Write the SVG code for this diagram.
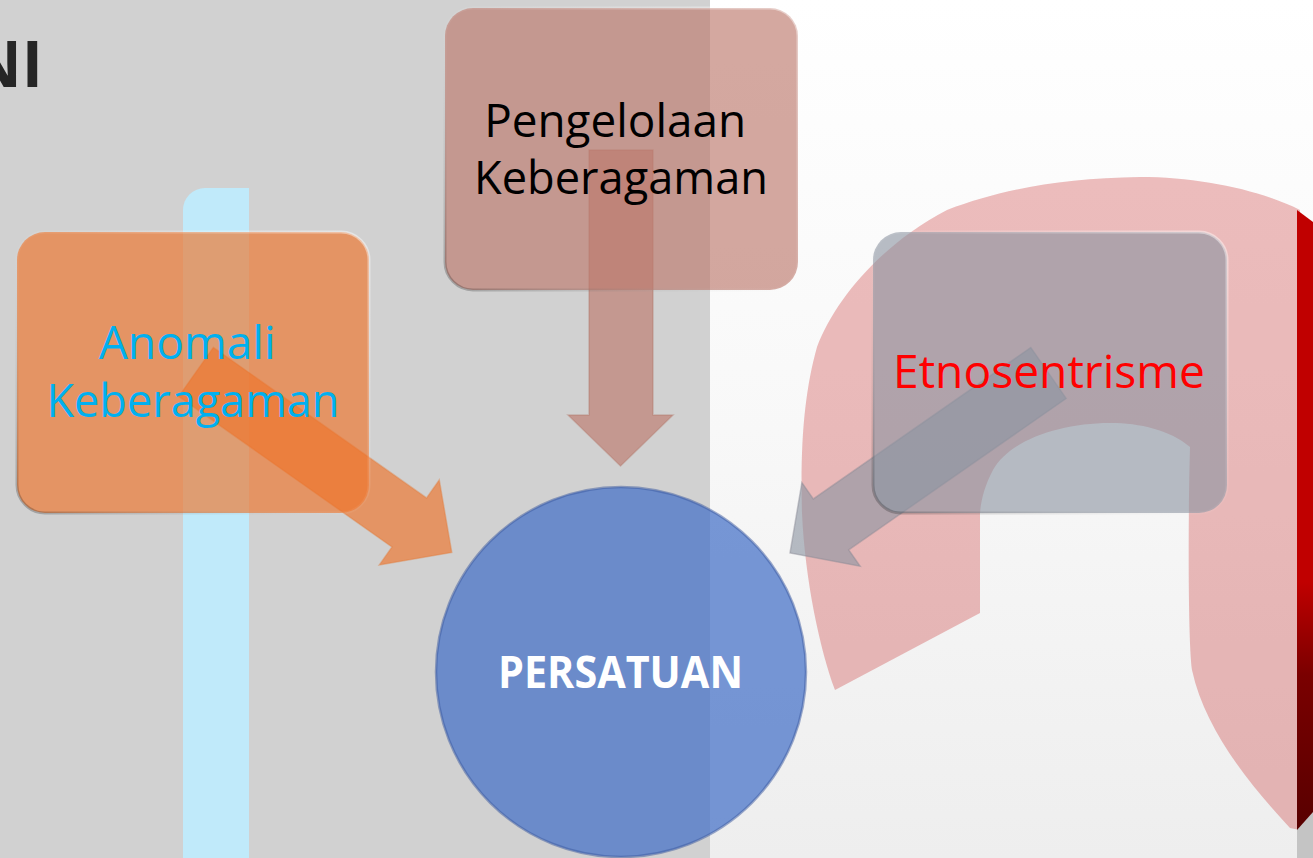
<svg xmlns="http://www.w3.org/2000/svg" width="1313" height="858" viewBox="0 0 1313 858">
  <defs>
    <linearGradient id="bgRight" x1="0" y1="0" x2="0" y2="1">
      <stop offset="0" stop-color="#ffffff"/>
      <stop offset="0.5" stop-color="#f8f8f8"/>
      <stop offset="1" stop-color="#eeeeee"/>
    </linearGradient>
    <linearGradient id="redBar" x1="0" y1="0" x2="0" y2="1">
      <stop offset="0" stop-color="#c00000"/>
      <stop offset="0.6" stop-color="#c00000"/>
      <stop offset="0.75" stop-color="#7a0000"/>
      <stop offset="1" stop-color="#580000"/>
    </linearGradient>
    <linearGradient id="bevel" x1="1" y1="0" x2="0" y2="1">
      <stop offset="0" stop-color="#ffffff" stop-opacity="0.45"/>
      <stop offset="0.5" stop-color="#ffffff" stop-opacity="0.05"/>
      <stop offset="1" stop-color="#000000" stop-opacity="0.25"/>
    </linearGradient>
    <style>
      .txt { font-family: 'Open Sans', 'Liberation Sans', sans-serif; text-anchor: middle; }
      .box { stroke: url(#bevel); stroke-width: 3; }
      .orange { fill: rgb(238,115,41); fill-opacity: 0.65; }
      .rose { fill: rgb(189,121,109); fill-opacity: 0.65; }
      .slate { fill: rgb(140,148,162); fill-opacity: 0.62; }
      .blue { fill: rgb(68,112,200); fill-opacity: 0.72; }
    </style>
  </defs>

  <!-- background -->
  <g id="background">
    <rect x="0" y="0" width="710" height="858" fill="#d1d1d1"/>
    <rect x="710" y="0" width="603" height="858" fill="url(#bgRight)"/>
    <path d="M183,858 V210 A22,22 0 0 1 205,188 H249 V858 Z" fill="#c0eafa"/>
    <path d="M835,690 C820,650 805,580 802,513 C800,440 805,390 817,347 C835,300 880,245 947,210 C1000,190 1060,178 1140,177 C1200,177 1260,190 1300,210 L1300,830 L1290,828 C1250,785 1205,730 1192,670 C1188,640 1188,520 1190,447 C1170,430 1140,423 1110,423 C1060,423 1010,440 993,470 C985,485 981,500 980,513 L980,613 Z" fill="rgb(200,40,40)" fill-opacity="0.3"/>
    <rect x="1297" y="800" width="16" height="58" fill="#c4c4c4"/>
    <path d="M1297,210 L1313,222 L1313,812 L1297,830 Z" fill="url(#redBar)"/>
    <text x="43" y="87" font-family="'Open Sans', 'Liberation Sans', sans-serif" font-weight="bold" font-size="64" fill="#262626" text-anchor="end">NI</text>
  </g>

  <!-- connectors -->
  <g id="connectors">
    <path class="orange" d="M0,-30 H261 V-52 L313,0 L261,52 V30 H0 Z" transform="translate(196,372) rotate(35.2)" stroke="#e07a3a" stroke-opacity="0.4" stroke-width="1.5"/>
    <path class="rose" d="M589,150 H653 V415 H673 L620.5,466 L568,415 H589 Z" stroke="#b07060" stroke-opacity="0.35" stroke-width="1.5"/>
    <path class="slate" d="M0,-31 H265 V-51 L315,0 L265,51 V31 H0 Z" transform="translate(1048.5,373) rotate(145.15)" stroke="#8a8a95" stroke-opacity="0.45" stroke-width="1.5"/>
  </g>

  <!-- nodes -->
  <g id="node-anomali">
    <rect class="orange box" x="17" y="232" width="352" height="281" rx="28"/>
    <text class="txt" font-size="45" fill="#00b0f0">
      <tspan x="193" y="359" textLength="177" lengthAdjust="spacingAndGlyphs">Anomali</tspan>
      <tspan x="193" y="417" textLength="293" lengthAdjust="spacingAndGlyphs">Keberagaman</tspan>
    </text>
  </g>

  <g id="node-pengelolaan">
    <rect class="rose box" x="445" y="8" width="353" height="282" rx="28"/>
    <text class="txt" font-size="45" fill="#000000">
      <tspan x="621" y="137" textLength="262" lengthAdjust="spacingAndGlyphs">Pengelolaan</tspan>
      <tspan x="621" y="194" textLength="294" lengthAdjust="spacingAndGlyphs">Keberagaman</tspan>
    </text>
  </g>

  <g id="node-etnosentrisme">
    <rect class="slate box" x="873" y="232" width="354" height="281" rx="28"/>
    <text class="txt" x="1049" y="388" font-size="46" fill="#ff0000" textLength="312" lengthAdjust="spacingAndGlyphs">Etnosentrisme</text>
  </g>

  <g id="node-persatuan">
    <circle class="blue" cx="621" cy="672" r="185" stroke="rgb(60,90,160)" stroke-opacity="0.5" stroke-width="2.5"/>
    <text class="txt" x="620.5" y="688" font-size="44" font-weight="bold" fill="#ffffff" textLength="245" lengthAdjust="spacingAndGlyphs">PERSATUAN</text>
  </g>
</svg>
